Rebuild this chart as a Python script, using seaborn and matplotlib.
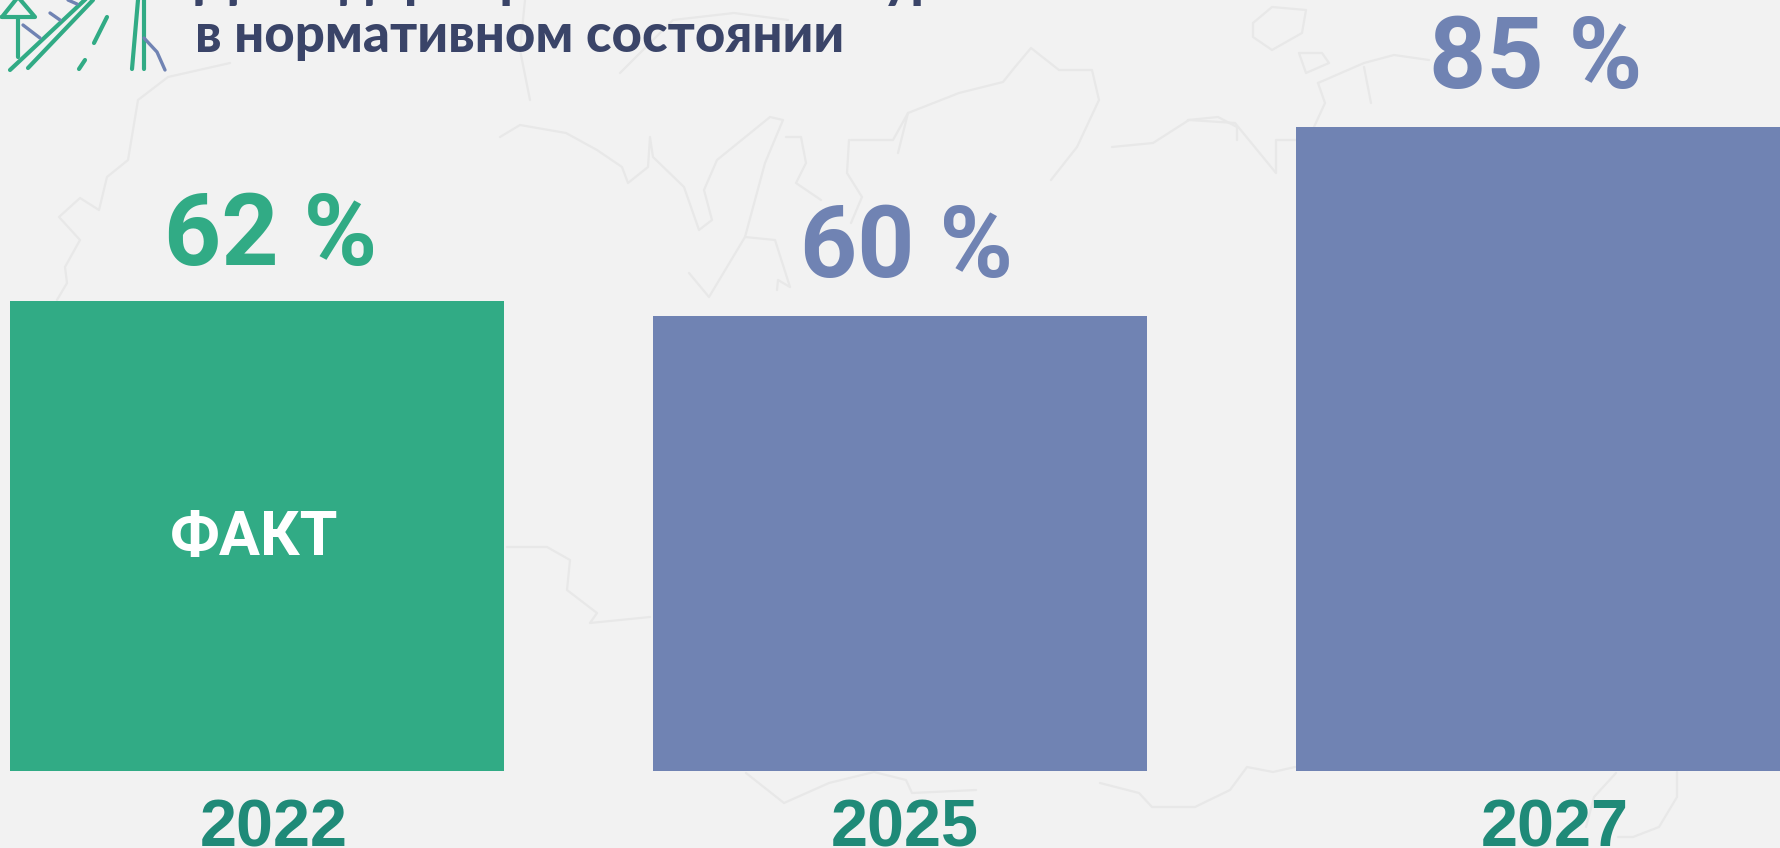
import matplotlib
matplotlib.use('Agg')
import matplotlib.pyplot as plt
from matplotlib.transforms import ScaledTranslation
import seaborn as sns

years = ['2022', '2025', '2027']
shares = [62, 60, 85]
status = ['fact', 'plan', 'plan']
share_labels = ['62 %', '60 %', '85 %']
title_lines = ['Доля дорог регионального уровня', 'в нормативном состоянии']
fact_label = 'ФАКТ'

GREEN = '#31AB85'
BLUE = '#7083B3'
NAVY = '#3A4468'
TEAL = '#1F8A78'
BG = '#F2F2F2'
MAP = '#E8E8E8'
W, H = 1780, 848

# faint map behind the chart, traced roughly in pixels
map_lines = [
    [(230, 63), (168, 77), (138, 100), (128, 160), (107, 177), (99, 210), (80, 198), (59, 217), (80, 240), (65, 267), (67, 283), (57, 300)],
    [(530, 100), (520, 50), (525, 0)],
    [(620, 73), (673, 20), (734, 13), (788, 20)],
    [(500, 137), (520, 125), (566, 133), (597, 150), (622, 167), (628, 183), (648, 167), (650, 137), (653, 157), (684, 187), (699, 230), (712, 220), (704, 190), (717, 160), (770, 117), (783, 120), (765, 163), (745, 237), (775, 240), (790, 287), (778, 280), (777, 290)],
    [(689, 273), (709, 297), (745, 237)],
    [(786, 137), (801, 137), (806, 163), (796, 183), (821, 200)],
    [(849, 140), (847, 173), (862, 197), (851, 223)],
    [(851, 140), (893, 140), (908, 113), (898, 153)],
    [(1051, 180), (1077, 147), (1099, 100), (1092, 70), (1059, 70), (1031, 48), (1015, 67), (1003, 82), (959, 93), (908, 113)],
    [(1112, 147), (1153, 143), (1189, 120), (1235, 123), (1276, 173), (1276, 140), (1300, 140)],
    [(507, 547), (547, 547), (570, 560), (567, 590), (597, 613), (590, 623), (620, 620), (650, 617)],
    [(746, 773), (784, 803), (829, 783), (874, 772), (906, 780), (912, 793), (976, 790)],
    [(1100, 783), (1139, 793), (1152, 807), (1195, 807), (1230, 790), (1247, 767), (1273, 772), (1295, 767)],
    [(1677, 772), (1677, 797), (1659, 827), (1633, 837), (1618, 837)],
    [(1616, 773), (1594, 797), (1586, 827)],
    [(1253, 23), (1272, 7), (1306, 10), (1302, 33), (1272, 50), (1253, 37), (1253, 23)],
    [(1299, 53), (1322, 53), (1329, 63), (1306, 73), (1299, 53)],
    [(1318, 83), (1364, 63), (1394, 55), (1429, 60)],
    [(1318, 83), (1325, 103), (1314, 127)],
    [(1364, 67), (1371, 103)],
    [(1188, 120), (1218, 117), (1237, 127), (1237, 140)],
]
icon_green = [
    [(2, 17), (35, 17), (18, -3), (2, 17)],
    [(18, 17), (18, 57)],
    [(10, 70), (90, -5)],
    [(28, 68), (93, 0)],
    [(107, 17), (94, 43)],
    [(85, 60), (79, 69)],
    [(132, 69), (138, 0)],
    [(144, 69), (144, 0)],
]
icon_blue = [
    [(144, 38), (157, 52), (165, 70)],
    [(23, 25), (40, 38)],
    [(50, 13), (60, 20)],
    [(68, 0), (77, 4)],
]

sns.set_theme(style='white')
plt.rcParams['font.family'] = ['Lato', 'DejaVu Sans']

fig = plt.figure(figsize=(W / 100, H / 100), dpi=100, facecolor=BG)

back = fig.add_axes([0, 0, 1, 1], zorder=0)
back.set_xlim(0, W)
back.set_ylim(H, 0)
back.axis('off')
for line in map_lines:
    back.plot(*zip(*line), color=MAP, lw=1.6, solid_joinstyle='round')
for line in icon_green:
    back.plot(*zip(*line), color=GREEN, lw=3)
for line in icon_blue:
    back.plot(*zip(*line), color=BLUE, lw=2.4)

back.text(195, 52, title_lines[1], color=NAVY, fontsize=38, fontweight='black', va='baseline')
back.text(195, -3, title_lines[0], color=NAVY, fontsize=38, fontweight='black', va='baseline')

ax = fig.add_axes([0, 77 / H, 1, 771 / H], zorder=1)
ax.patch.set_alpha(0)
sns.barplot(x=years, y=shares, hue=status, palette={'fact': GREEN, 'plan': BLUE},
            dodge=False, width=0.768, saturation=1, legend=False, linewidth=0, ax=ax)
ax.set_xlim(-257 / 643, (W - 257) / 643)
ax.set_ylim(0, 771 / 7.58)
ax.set_yticks([])
ax.set_ylabel('')
sns.despine(ax=ax, left=True, bottom=True)

# labels do not sit exactly on the bar centres in the original
tick_shift = [17, 5, 12]
ax.tick_params(axis='x', length=0, pad=20)
ax.set_xticks(range(len(years)))
ax.set_xticklabels(years, fontsize=48, fontweight='bold', color=TEAL, family='Liberation Sans')
for lab, dx in zip(ax.get_xticklabels(), tick_shift):
    lab.set_transform(lab.get_transform() + ScaledTranslation(dx / 100, 0, fig.dpi_scale_trans))

label_shift = [(14, 36), (7, 39), (-7, 39)]
label_colors = [GREEN, BLUE, BLUE]
for i, val in enumerate(shares):
    ax.annotate(share_labels[i], xy=(i, val), xytext=label_shift[i], textcoords='offset pixels',
                ha='center', va='baseline', fontsize=72, fontweight='bold', color=label_colors[i],
                family='Roboto')

ax.annotate(fact_label, xy=(0, shares[0] / 2), xytext=(-3, -19), textcoords='offset pixels',
            ha='center', va='baseline', fontsize=44, fontweight='bold', color='white', family='Roboto')

fig.savefig('out.png', dpi=100, facecolor=BG)
plt.close(fig)
